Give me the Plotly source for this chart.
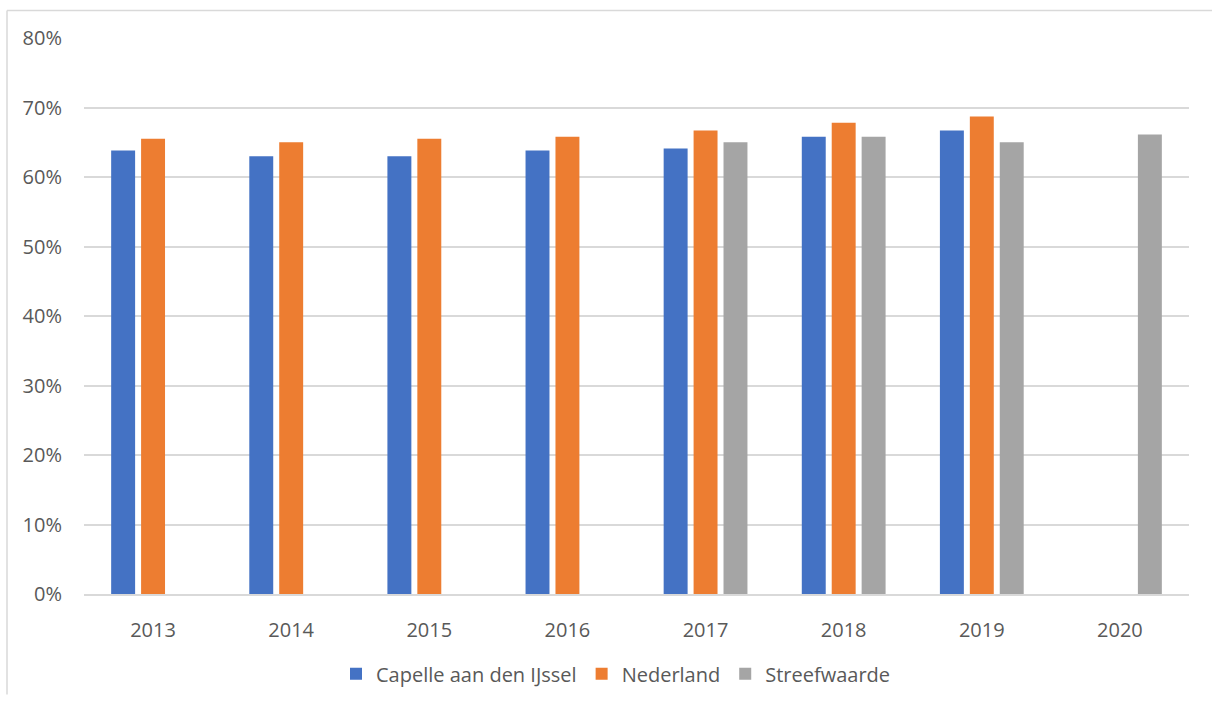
import plotly.graph_objects as go

years = ["2013", "2014", "2015", "2016", "2017", "2018", "2019", "2020"]
capelle = [0.638, 0.630, 0.630, 0.638, 0.641, 0.658, 0.667, None]
nederland = [0.655, 0.650, 0.655, 0.658, 0.667, 0.678, 0.687, None]
streefwaarde = [None, None, None, None, 0.650, 0.658, 0.650, 0.661]
y_ticks = [0, 0.1, 0.2, 0.3, 0.4, 0.5, 0.6, 0.7, 0.8]

W, H = 1212, 705
L, R, T, B = 84, 23, 38, 102

fig = go.Figure()
for name, vals, col in [
    ("Capelle aan den IJssel", capelle, "#4472C4"),
    ("Nederland", nederland, "#ED7D31"),
    ("Streefwaarde", streefwaarde, "#A5A5A5"),
]:
    fig.add_trace(go.Bar(
        x=years, y=vals, name=name,
        marker=dict(color=col, line=dict(width=0)),
        hoverinfo="x+y",
    ))

pw = W - L - R
ph = H - T - B


def px_x(p):
    return (p - L) / pw


def px_y(p):
    return (H - B - p) / ph


fig.update_layout(
    width=W, height=H,
    margin=dict(l=L, r=R, t=T, b=B),
    paper_bgcolor="white", plot_bgcolor="white",
    barmode="group", bargap=0.35, bargroupgap=0.2,
    font=dict(family="Open Sans, Liberation Sans, sans-serif", color="#595959", size=20),
    showlegend=True,
    legend=dict(
        orientation="h", x=px_x(616), xanchor="center", y=px_y(684), yanchor="middle",
        font=dict(size=20, color="#595959"), itemwidth=30, traceorder="normal",
    ),
    xaxis=dict(
        type="category", showgrid=False, zeroline=False,
        showline=True, linecolor="#D9D9D9", linewidth=1.5,
        ticks="", ticklabelstandoff=17,
        tickfont=dict(size=20, color="#595959"),
        fixedrange=True,
    ),
    yaxis=dict(
        range=[0, 0.8], tickvals=y_ticks, tickformat=".0%",
        showgrid=True, gridcolor="#D9D9D9", gridwidth=1.5,
        zeroline=False, showline=False, ticks="",
        ticklabelstandoff=21,
        tickfont=dict(size=20, color="#595959"),
        fixedrange=True,
    ),
    shapes=[
        dict(type="line", xref="paper", yref="paper",
             x0=px_x(7), x1=px_x(W), y0=px_y(10), y1=px_y(10),
             line=dict(color="#D9D9D9", width=1.5)),
        dict(type="line", xref="paper", yref="paper",
             x0=px_x(7), x1=px_x(7), y0=px_y(10), y1=px_y(H),
             line=dict(color="#D9D9D9", width=1.5)),
    ],
)

fig.write_html("out.html")
